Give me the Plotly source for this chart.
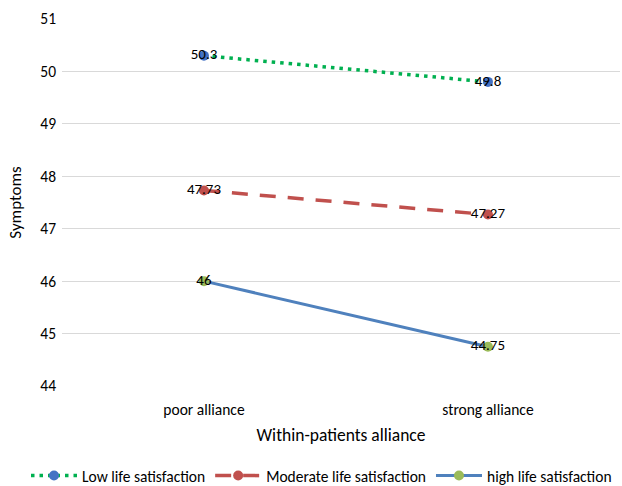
import plotly.graph_objects as go

categories = ["poor alliance", "strong alliance"]
low_vals = [50.3, 49.8]
mod_vals = [47.73, 47.27]
high_vals = [46, 44.75]
low_labels = ["50.3", "49.8"]
mod_labels = ["47.73", "47.27"]
high_labels = ["46", "44.75"]

FONT = "Carlito, Lato, 'Liberation Sans', sans-serif"
LBL = dict(family=FONT, size=15, color="#000000")

fig = go.Figure()
fig.add_trace(go.Scatter(
    x=categories, y=low_vals, name="Low life satisfaction",
    mode="lines+markers+text", text=low_labels, textposition="middle center",
    line=dict(color="#00B050", width=3.5, dash="3.5px,5px"),
    marker=dict(color="#4472C4", size=10),
    textfont=LBL,
))
fig.add_trace(go.Scatter(
    x=categories, y=mod_vals, name="Moderate life satisfaction",
    mode="lines+markers+text", text=mod_labels, textposition="middle center",
    line=dict(color="#C0504D", width=3.5, dash="16px,12px"),
    marker=dict(color="#C0504D", size=10),
    textfont=LBL,
))
fig.add_trace(go.Scatter(
    x=categories, y=high_vals, name="high life satisfaction",
    mode="lines+markers+text", text=high_labels, textposition="middle center",
    line=dict(color="#4F81BD", width=3),
    marker=dict(color="#9BBB59", size=10),
    textfont=LBL,
))

fig.update_layout(
    width=622, height=486,
    margin=dict(l=62, r=2, t=19, b=100, autoexpand=False),
    paper_bgcolor="white", plot_bgcolor="white",
    font=dict(family=FONT, size=15.5, color="#000000"),
    showlegend=True,
    legend=dict(orientation="h", x=(26 - 62) / 558, xanchor="left", xref="paper",
                y=-(476 - 386) / 367, yanchor="middle", yref="paper",
                font=dict(family=FONT, size=15.5, color="#000000"),
                itemwidth=46, tracegroupgap=0, bgcolor="rgba(0,0,0,0)"),
)
fig.update_xaxes(
    type="category", range=[-0.5, 1.465], automargin=False,
    showgrid=False, showline=False, zeroline=False, ticks="",
    ticklabelstandoff=12,
    tickfont=dict(family=FONT, size=15.5, color="#000000"),
    title=dict(text="Within-patients alliance", standoff=11,
               font=dict(family=FONT, size=17.5, color="#000000")),
)
fig.update_yaxes(
    range=[44, 51], dtick=1, showgrid=True, gridcolor="#D9D9D9", gridwidth=1,
    zeroline=False, showline=False, ticks="", automargin=False,
    ticklabelstandoff=5,
    tickfont=dict(family=FONT, size=15.5, color="#000000"),
    title=dict(text="Symptoms", standoff=14,
               font=dict(family=FONT, size=17, color="#000000")),
)

fig.write_html(
    "out.html",
    config={"displayModeBar": False},
    post_script="document.body.style.margin='0';document.body.style.overflow='hidden';",
)
